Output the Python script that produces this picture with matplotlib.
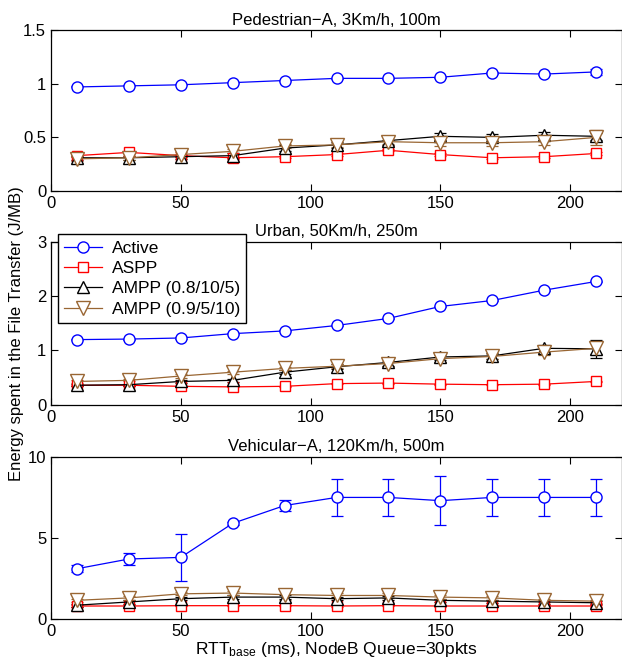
import matplotlib
matplotlib.use('Agg')
import matplotlib.pyplot as plt
from matplotlib.ticker import FuncFormatter
from matplotlib.lines import Line2D

plt.rcParams['font.family'] = ['Liberation Sans', 'DejaVu Sans']
plt.rcParams['mathtext.fontset'] = 'custom'
plt.rcParams['mathtext.rm'] = 'Liberation Sans'
plt.rcParams['mathtext.it'] = 'Liberation Sans'

rtt = [10, 30, 50, 70, 90, 110, 130, 150, 170, 190, 210]
labels = ['Active', 'ASPP', 'AMPP (0.8/10/5)', 'AMPP (0.9/5/10)']
titles = ['Pedestrian\u2212A, 3Km/h, 100m', 'Urban, 50Km/h, 250m',
          'Vehicular\u2212A, 120Km/h, 500m']

# Pedestrian-A
ped_active = [0.97, 0.98, 0.99, 1.01, 1.03, 1.05, 1.05, 1.06, 1.10, 1.09, 1.11]
ped_active_err = [0.005, 0.005, 0.005, 0.005, 0.005, 0.005, 0.005, 0.005, 0.01, 0.01, 0.03]
ped_aspp = [0.33, 0.36, 0.33, 0.31, 0.32, 0.34, 0.38, 0.34, 0.31, 0.32, 0.35]
ped_aspp_err = [0.01] * 11
ped_ampp1 = [0.31, 0.31, 0.32, 0.33, 0.40, 0.43, 0.47, 0.51, 0.50, 0.52, 0.51]
ped_ampp1_err = [0.02, 0.02, 0.02, 0.02, 0.03, 0.03, 0.04, 0.03, 0.03, 0.03, 0.03]
ped_ampp2 = [0.30, 0.31, 0.34, 0.37, 0.42, 0.43, 0.46, 0.45, 0.45, 0.46, 0.50]
ped_ampp2_err = [0.02, 0.02, 0.02, 0.02, 0.02, 0.02, 0.02, 0.03, 0.03, 0.03, 0.07]

# Urban
urb_active = [1.20, 1.21, 1.23, 1.31, 1.36, 1.46, 1.59, 1.81, 1.92, 2.11, 2.27]
urb_active_err = [0.01] * 11
urb_aspp = [0.36, 0.36, 0.34, 0.33, 0.34, 0.39, 0.40, 0.38, 0.37, 0.38, 0.43]
urb_aspp_err = [0.01] * 11
urb_ampp1 = [0.36, 0.37, 0.43, 0.45, 0.60, 0.70, 0.78, 0.88, 0.90, 1.04, 1.03]
urb_ampp1_err = [0.02, 0.02, 0.03, 0.03, 0.04, 0.05, 0.06, 0.06, 0.06, 0.06, 0.16]
urb_ampp2 = [0.43, 0.45, 0.53, 0.60, 0.67, 0.71, 0.76, 0.85, 0.89, 0.97, 1.04]
urb_ampp2_err = [0.02, 0.02, 0.03, 0.03, 0.03, 0.04, 0.05, 0.07, 0.05, 0.05, 0.10]

# Vehicular-A
veh_active = [3.1, 3.7, 3.8, 5.9, 7.0, 7.5, 7.5, 7.3, 7.5, 7.5, 7.5]
veh_active_err = [0.2, 0.35, 1.45, 0.1, 0.35, 1.15, 1.15, 1.5, 1.15, 1.15, 1.15]
veh_aspp = [0.80, 0.80, 0.82, 0.82, 0.82, 0.80, 0.82, 0.80, 0.80, 0.80, 0.80]
veh_aspp_err = [0.05] * 11
veh_ampp1 = [0.85, 1.05, 1.25, 1.35, 1.35, 1.25, 1.30, 1.15, 1.10, 1.05, 1.00]
veh_ampp1_err = [0.1] * 11
veh_ampp2 = [1.15, 1.30, 1.55, 1.60, 1.50, 1.45, 1.45, 1.35, 1.30, 1.15, 1.10]
veh_ampp2_err = [0.1, 0.1, 0.1, 0.15, 0.3, 0.15, 0.15, 0.1, 0.1, 0.1, 0.1]

panels = [
    [(ped_active, ped_active_err), (ped_aspp, ped_aspp_err),
     (ped_ampp1, ped_ampp1_err), (ped_ampp2, ped_ampp2_err)],
    [(urb_active, urb_active_err), (urb_aspp, urb_aspp_err),
     (urb_ampp1, urb_ampp1_err), (urb_ampp2, urb_ampp2_err)],
    [(veh_active, veh_active_err), (veh_aspp, veh_aspp_err),
     (veh_ampp1, veh_ampp1_err), (veh_ampp2, veh_ampp2_err)],
]
yticks = [[0, 0.5, 1, 1.5], [0, 1, 2, 3], [0, 5, 10]]

colors = ['#0000ff', '#ff0000', '#000000', '#996633']
markers = ['o', 's', '^', 'v']
msizes = [8, 7.5, 8.5, 9.5]

fig = plt.figure(figsize=(6.22, 6.68), dpi=100)
rects = [[0.082, 0.714, 0.918, 0.241],
         [0.082, 0.394, 0.918, 0.244],
         [0.082, 0.0734, 0.918, 0.2426]]

fmt = FuncFormatter(lambda v, p: '%g' % v)
for i in range(3):
    ax = fig.add_axes(rects[i])
    for j, (vals, errs) in enumerate(panels[i]):
        ax.errorbar(rtt, vals, yerr=errs, color=colors[j], marker=markers[j],
                    markersize=msizes[j], markerfacecolor='white',
                    markeredgecolor=colors[j], linewidth=0.9, elinewidth=0.9,
                    capsize=4, capthick=0.9)
    ax.set_xlim(0, 220)
    ax.set_ylim(yticks[i][0], yticks[i][-1])
    ax.set_xticks([0, 50, 100, 150, 200])
    ax.set_yticks(yticks[i])
    ax.yaxis.set_major_formatter(fmt)
    ax.tick_params(direction='in', top=True, right=True, labelsize=12,
                   length=5, width=0.8)
    for s in ax.spines.values():
        s.set_linewidth(0.9)
    ax.set_title(titles[i], fontsize=12, pad=4)
    if i == 2:
        ax.set_xlabel('RTT$_{\\mathrm{base}}$ (ms), NodeB Queue=30pkts', fontsize=12.5, labelpad=1)

handles = [Line2D([], [], color=colors[j], marker=markers[j], markersize=msizes[j],
                  markerfacecolor='white', markeredgecolor=colors[j], linewidth=0.9)
           for j in range(4)]
fig.legend(handles, labels, loc='upper left', bbox_to_anchor=(0.093, 0.649),
           fontsize=12.5, frameon=True, fancybox=False, edgecolor='black',
           framealpha=1, borderpad=0.35, labelspacing=0.3, handlelength=2.2,
           handletextpad=0.55, borderaxespad=0)

fig.text(0.027, 0.50, 'Energy spent in the File Transfer (J/MB)', rotation=90,
         ha='center', va='center', fontsize=12)

fig.savefig('out.png', dpi=100)
